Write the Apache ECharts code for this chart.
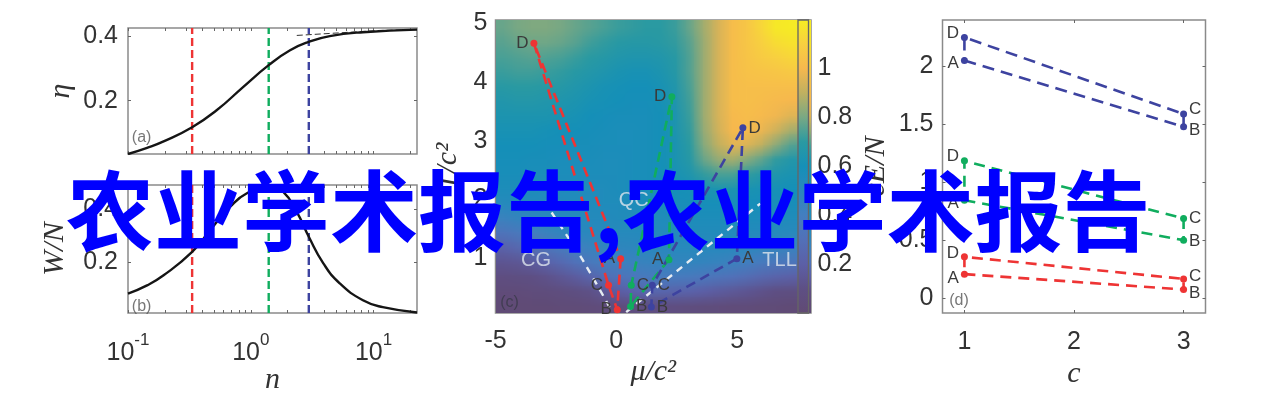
<!DOCTYPE html>
<html>
<head>
<meta charset="utf-8">
<style>
  html, body { margin: 0; background: #fff; }
  #chart { width: 1269px; height: 401px; }
</style>
<script src="https://cdn.jsdelivr.net/npm/echarts@6/dist/echarts.min.js"></script>
</head>
<body>
<div id="chart"></div>
<script>
const titleText = '农业学术报告,农业学术报告'

// panels (a), (b): n on a log axis
const etaN = [0.1, 0.143, 0.195, 0.333, 0.53, 0.87, 1.4, 2.09, 2.97, 4.4, 8.2, 22.6]
const etaV = [0.035, 0.054, 0.074, 0.118, 0.171, 0.243, 0.31, 0.356, 0.382, 0.4, 0.412, 0.42]
const limitN = [2.37, 11.2, 22.6]
const limitV = [0.402, 0.4175, 0.42]
const workN = [0.1, 0.143, 0.195, 0.333, 0.467, 0.68, 0.93, 1.43, 1.84, 2.37, 2.97, 3.9, 5.3, 8.2, 11.9, 22.6]
const workV = [0.083, 0.114, 0.152, 0.24, 0.322, 0.41, 0.461, 0.488, 0.466, 0.391, 0.297, 0.197, 0.122, 0.058, 0.032, 0.012]
const markerN = [0.333, 1.4, 2.97]
const logMajor = [0.1, 1, 10]
const logTicks = [0.1, 0.2, 0.3, 0.4, 0.5, 0.6, 0.7, 0.8, 0.9, 1, 2, 3, 4, 5, 6, 7, 8, 9, 10, 20]

// panel (c): loops in order A, B, C, D
const letters = ['A', 'B', 'C', 'D']
const redMu = [0.18, 0.04, -0.32, -3.41]
const redT = [0.994, 0.126, 0.54, 4.655]
const greenMu = [2.18, 0.59, 0.62, 2.30]
const greenT = [0.977, 0.182, 0.54, 3.745]
const blueMu = [4.99, 1.45, 1.49, 5.24]
const blueT = [0.994, 0.17, 0.54, 3.217]
const boundLeftMu = [-0.28, -0.48, -1.43, -2.05, -2.68, -3.05]
const boundLeftT = [0.17, 0.32, 1.0, 1.39, 1.78, 2.02]
const boundRightMu = [0.41, 5.96]
const boundRightT = [0.085, 1.93]
const phaseNames = ['CG', 'QC', 'TLL']
const phaseMu = [-3.32, 0.72, 6.76]
const phaseT = [0.963, 1.985, 0.963]

// panel (c) background, top row first, values x100
const heatRows = [
  [78, 80, 81, 81, 80, 78, 76, 74, 72, 71, 70, 70, 72, 78, 86, 94, 102, 106, 112, 118, 119, 119],
  [76, 78, 79, 79, 78, 76, 73, 71, 69, 68, 68, 69, 71, 76, 85, 94, 102, 106, 110, 114, 116, 117],
  [74, 75, 76, 75, 74, 72, 70, 68, 66, 65, 65, 66, 69, 75, 85, 94, 102, 105, 108, 110, 112, 113],
  [72, 73, 73, 72, 71, 69, 67, 65, 63, 62, 62, 64, 68, 75, 85, 94, 102, 104, 105, 106, 107, 108],
  [69, 70, 70, 69, 68, 66, 64, 62, 61, 60, 60, 62, 66, 74, 85, 94, 102, 103, 103, 103, 103, 103],
  [66, 67, 67, 66, 65, 64, 62, 61, 60, 59, 59, 61, 65, 73, 85, 94, 102, 103, 102, 101, 100, 100],
  [64, 64, 64, 64, 63, 62, 60, 59, 58, 58, 58, 60, 64, 72, 85, 94, 101, 102, 101, 99, 96, 96],
  [62, 62, 62, 61, 60, 60, 59, 58, 57, 57, 58, 60, 64, 71, 84, 93, 100, 101, 98, 93, 87, 85],
  [60, 60, 60, 59, 59, 58, 58, 57, 57, 57, 58, 60, 63, 70, 82, 90, 96, 95, 90, 83, 76, 74],
  [59, 59, 58, 58, 57, 57, 57, 56, 56, 57, 58, 60, 63, 68, 78, 84, 86, 82, 77, 71, 67, 66],
  [58, 58, 57, 57, 56, 56, 56, 56, 56, 57, 58, 60, 62, 65, 71, 74, 74, 71, 68, 65, 63, 63],
  [56, 56, 56, 55, 55, 55, 55, 55, 56, 57, 58, 59, 60, 61, 63, 64, 64, 63, 62, 61, 60, 60],
  [52, 53, 53, 53, 53, 54, 54, 55, 55, 56, 57, 57, 58, 58, 59, 59, 59, 59, 59, 58, 58, 58],
  [44, 46, 48, 50, 51, 52, 53, 53, 54, 54, 55, 55, 56, 56, 56, 56, 56, 56, 56, 55, 55, 55],
  [33, 36, 40, 44, 47, 49, 50, 51, 52, 52, 53, 53, 53, 54, 54, 54, 54, 53, 53, 52, 51, 51],
  [22, 25, 29, 33, 37, 41, 44, 47, 48, 49, 50, 50, 51, 51, 51, 51, 50, 49, 47, 46, 44, 44],
  [14, 15, 18, 22, 26, 31, 36, 40, 42, 44, 45, 46, 47, 47, 46, 45, 43, 41, 38, 36, 34, 33],
  [8, 9, 10, 12, 15, 18, 23, 28, 32, 35, 37, 38, 38, 37, 35, 33, 31, 28, 25, 23, 21, 20],
  [4, 4, 5, 6, 7, 9, 11, 15, 19, 22, 24, 24, 23, 22, 20, 18, 16, 14, 12, 10, 9, 9],
  [2, 2, 2, 2, 3, 3, 4, 5, 6, 7, 8, 8, 8, 7, 6, 5, 4, 4, 3, 3, 2, 2]
]
const colorStops = ['#614a73', '#5e4f84', '#5c5fa6', '#5270b8', '#447ebf', '#2a88bd', '#1590b8', '#2a9aa2', '#78a884', '#c0b060', '#f6b84e', '#f8d040', '#f6ee22']

// panel (d): loops in order A, B, C, D
const cValues = [1, 3, 3, 1]
const dBlue = [2.05, 1.48, 1.59, 2.25]
const dGreen = [0.847, 0.503, 0.69, 1.186]
const dRed = [0.21, 0.078, 0.169, 0.359]

const RED = '#ee3434'
const GREEN = '#10ad5e'
const BLUE = '#3d43a0'
const INK = '#333'
const LABEL_FONT = 'Liberation Sans'
const MATH_FONT = 'Liberation Serif'

const grids = [
  { left: 128, top: 28, width: 289, height: 126 },
  { left: 128, top: 185, width: 289, height: 128 },
  { left: 495.5, top: 20, width: 315.5, height: 293 },
  { left: 798, top: 20, width: 10.5, height: 293 },
  { left: 942.5, top: 20, width: 263, height: 293 }
].map((g) => ({ ...g, outerBoundsMode: 'none', show: true, borderColor: '#8a8a8a', borderWidth: 1.5, backgroundColor: 'transparent' }))

const axisText = { color: INK, fontFamily: LABEL_FONT, fontSize: 25 }
const nameText = { color: INK, fontFamily: MATH_FONT, fontStyle: 'italic', fontSize: 30 }
const tickStyle = { inside: true, length: 3, lineStyle: { color: '#666', width: 1 } }
const noLine = { show: false, onZero: false }

function valueAxis(gridIndex, min, max, ticks, opts = {}) {
  return {
    type: 'value', gridIndex, min, max, scale: true,
    splitLine: { show: false }, axisLine: noLine,
    axisTick: { ...tickStyle, customValues: ticks },
    axisLabel: { show: false, customValues: ticks },
    ...opts
  }
}

const logTickLabel = {
  show: true, customValues: logMajor, margin: 19, color: INK,
  formatter: (v) => `{b|10}{s|${Math.round(Math.log10(v))}}`,
  rich: {
    b: { fontFamily: LABEL_FONT, fontSize: 25, color: INK, lineHeight: 34, verticalAlign: 'bottom' },
    s: { fontFamily: LABEL_FONT, fontSize: 17, color: INK, lineHeight: 34, verticalAlign: 'top' }
  }
}
function logAxis(gridIndex, opts = {}) {
  return {
    type: 'log', logBase: 10, gridIndex, min: 0.1, max: 22.6,
    splitLine: { show: false }, axisLine: noLine,
    axisTick: { ...tickStyle, customValues: logTicks },
    axisLabel: { show: false, customValues: logMajor },
    ...opts
  }
}
function shownLabel(gap, down = 0) {
  return { show: true, margin: gap, padding: [down, 0, 0, 0], ...axisText }
}
function axisName(name, nameGap, extra = {}) {
  return { name, nameLocation: 'middle', nameGap, nameMoveOverlap: false, nameTextStyle: nameText, ...extra }
}

const xAxes = [
  logAxis(0),
  logAxis(1, { axisLabel: logTickLabel, ...axisName('n', 52) }),
  valueAxis(2, -5, 8.06, [-5, 0, 5], {
    axisLabel: { ...shownLabel(16), customValues: [-5, 0, 5] },
    axisTick: { show: false },
    ...axisName('μ/c²', 44)
  }),
  valueAxis(3, 0, 1, []),
  valueAxis(4, 0.8, 3.2, [1, 2, 3], {
    axisLabel: { ...shownLabel(17), customValues: [1, 2, 3] },
    ...axisName('c', 46)
  }),
  // top edge ticks
  logAxis(0, { position: 'top' }),
  logAxis(1, { position: 'top' }),
  valueAxis(4, 0.8, 3.2, [1, 2, 3], { position: 'top' })
]
const yAxes = [
  valueAxis(0, 0.035, 0.425, [0.2, 0.4], {
    axisLabel: { ...shownLabel(10, 6), customValues: [0.2, 0.4] },
    ...axisName('η', 52, { nameRotate: 90 })
  }),
  valueAxis(1, 0.01, 0.492, [0.2, 0.4], {
    axisLabel: { ...shownLabel(10, 10), customValues: [0.2, 0.4] },
    ...axisName('W/N', 58, { nameRotate: 90 })
  }),
  valueAxis(2, 0.07, 5.05, [1, 2, 3, 4, 5], {
    axisTick: { show: false },
    axisLabel: { ...shownLabel(8, 6), customValues: [1, 2, 3, 4, 5] },
    ...axisName('T/c²', 32, { nameRotate: 90 })
  }),
  valueAxis(3, 0, 1.195, [0.2, 0.4, 0.6, 0.8, 1], {
    position: 'right',
    axisLabel: { ...shownLabel(9, 6), customValues: [0.2, 0.4, 0.6, 0.8, 1] }
  }),
  valueAxis(4, -0.125, 2.4, [0, 0.5, 1, 1.5, 2], {
    axisLabel: { ...shownLabel(9, 8), customValues: [0, 0.5, 1, 1.5, 2] },
    ...axisName('cE/N', 51, { nameRotate: 90 })
  }),
  // right edge ticks
  valueAxis(0, 0.035, 0.425, [0.2, 0.4], { position: 'right' }),
  valueAxis(1, 0.01, 0.492, [0.2, 0.4], { position: 'right' }),
  valueAxis(4, -0.125, 2.4, [0, 0.5, 1, 1.5, 2], { position: 'right' })
]

function zip(xs, ys) {
  return xs.map((x, i) => [x, ys[i]])
}
function curve(x, y, xs, ys) {
  return {
    type: 'line', xAxisIndex: x, yAxisIndex: y, data: zip(xs, ys), smooth: 0.5, symbol: 'none', z: 4,
    lineStyle: { color: '#151515', width: 2.4 }
  }
}
function marker(x, y, n, bottom, top, color) {
  return {
    type: 'line', xAxisIndex: x, yAxisIndex: y, data: [[n, bottom], [n, top]], symbol: 'none', z: 3,
    lineStyle: { color, width: 2.4, type: [8, 4] }
  }
}
// closed loop A-B-C-D-A with its letters; sides is the label side per letter
function loop(x, y, xs, ys, color, sides, dash, nudge) {
  const pts = letters.map((name, i) => ({
    name, value: [xs[i], ys[i]],
    label: {
      show: true, formatter: name, position: sides[i], distance: 2,
      offset: [0, nudge ? nudge[i] : 0], color: '#3a3a3a', fontFamily: LABEL_FONT, fontSize: 17
    }
  }))
  pts.push({ value: [xs[0], ys[0]], symbol: 'none' })
  return {
    type: 'line', xAxisIndex: x, yAxisIndex: y, data: pts, symbol: 'circle', symbolSize: 7, z: 6,
    itemStyle: { color }, lineStyle: { color, width: 2.6, type: dash }
  }
}
function texts(x, y, items, style) {
  return {
    type: 'scatter', xAxisIndex: x, yAxisIndex: y, symbolSize: 1, z: 7, silent: true,
    itemStyle: { color: 'transparent' },
    data: items.map(([name, px, py]) => ({
      value: [px, py],
      label: { show: true, position: 'inside', formatter: name, ...style }
    }))
  }
}

// one pixel per matrix cell, the browser smooths it when it is stretched over the axes
function heatImage() {
  const cv = document.createElement('canvas')
  cv.width = heatRows[0].length
  cv.height = heatRows.length
  const ctx = cv.getContext('2d')
  heatRows.forEach((row, r) => row.forEach((v, c) => {
    ctx.fillStyle = echarts.color.lerp(v / 100 / 1.2, colorStops)
    ctx.fillRect(c, r, 1, 1)
  }))
  return cv
}
const heatCanvas = heatImage()

const panelTag = { color: '#555', fontFamily: LABEL_FONT, fontSize: 16 }
const series = [
  {
    type: 'custom', xAxisIndex: 2, yAxisIndex: 2, z: 1, silent: true, data: [[-5, 5.05]],
    renderItem: (params, api) => {
      const a = api.coord([-5, 5.05])
      const b = api.coord([8.06, 0.07])
      return {
        type: 'image',
        style: { image: heatCanvas, x: a[0], y: a[1], width: b[0] - a[0], height: b[1] - a[1] }
      }
    }
  },
  {
    // colour bar, same map as the background
    type: 'custom', xAxisIndex: 3, yAxisIndex: 3, z: 2, silent: true, data: [[0, 0]],
    clip: false,
    renderItem: (params, api) => {
      const a = api.coord([0, 1.195])
      const b = api.coord([1, 0])
      return {
        type: 'rect',
        shape: { x: a[0], y: a[1], width: b[0] - a[0], height: b[1] - a[1] },
        style: {
          stroke: '#666', lineWidth: 1.3,
          fill: new echarts.graphic.LinearGradient(0, 1, 0, 0,
            colorStops.map((color, i) => ({ offset: i / (colorStops.length - 1), color })))
        }
      }
    }
  },

  ...markerN.map((n, i) => marker(0, 0, n, 0.035, 0.425, [RED, GREEN, BLUE][i])),
  ...markerN.map((n, i) => marker(1, 1, n, 0.01, 0.492, [RED, GREEN, BLUE][i])),
  curve(0, 0, etaN, etaV),
  {
    type: 'line', xAxisIndex: 0, yAxisIndex: 0, data: zip(limitN, limitV), symbol: 'none', z: 3,
    lineStyle: { color: '#333', width: 1, type: [6, 3] }
  },
  curve(1, 1, workN, workV),
  texts(0, 0, [['(a)', 0.129, 0.085]], panelTag),
  texts(1, 1, [['(b)', 0.129, 0.033]], panelTag),

  {
    type: 'line', xAxisIndex: 2, yAxisIndex: 2, data: zip(boundLeftMu, boundLeftT), symbol: 'none', z: 4,
    lineStyle: { color: '#e6ecf2', width: 2.4, type: [7, 6] }
  },
  {
    type: 'line', xAxisIndex: 2, yAxisIndex: 2, data: zip(boundRightMu, boundRightT), symbol: 'none', z: 4,
    lineStyle: { color: '#e6ecf2', width: 2.4, type: [7, 6] }
  },
  loop(2, 2, redMu, redT, RED, ['left', 'left', 'left', 'left'], [10, 6]),
  loop(2, 2, greenMu, greenT, GREEN, ['left', 'right', 'right', 'left'], [10, 6]),
  loop(2, 2, blueMu, blueT, BLUE, ['right', 'right', 'right', 'right'], [10, 6]),
  texts(2, 2, phaseNames.map((name, i) => [name, phaseMu[i], phaseT[i]]),
    { color: '#dfe6ee', fontFamily: LABEL_FONT, fontSize: 20 }),
  texts(2, 2, [['(c)', -4.42, 0.24]], { ...panelTag, color: '#3a3a4a' }),

  loop(4, 4, cValues, dBlue, BLUE, ['left', 'right', 'right', 'left'], [12, 7], [3, 4, -5, -4]),
  loop(4, 4, cValues, dGreen, GREEN, ['left', 'right', 'right', 'left'], [11, 7], [3, 1, 0, -5]),
  loop(4, 4, cValues, dRed, RED, ['left', 'right', 'right', 'left'], [11, 7], [4, 4, -3, -4]),
  texts(4, 4, [['(d)', 0.95, -0.02]], panelTag)
]

const chart = echarts.init(document.getElementById('chart'), null, { renderer: 'canvas' })
chart.setOption({
  animation: false,
  backgroundColor: '#fff',
  title: {
    text: titleText, left: 61, top: 162, z: 20,
    textStyle: { color: '#0000ff', fontSize: 88, fontWeight: 'bold', fontFamily: 'Noto Sans CJK SC' }
  },
  tooltip: { show: false },
  grid: grids,
  xAxis: xAxes,
  yAxis: yAxes,
  series
})
</script>
</body>
</html>
